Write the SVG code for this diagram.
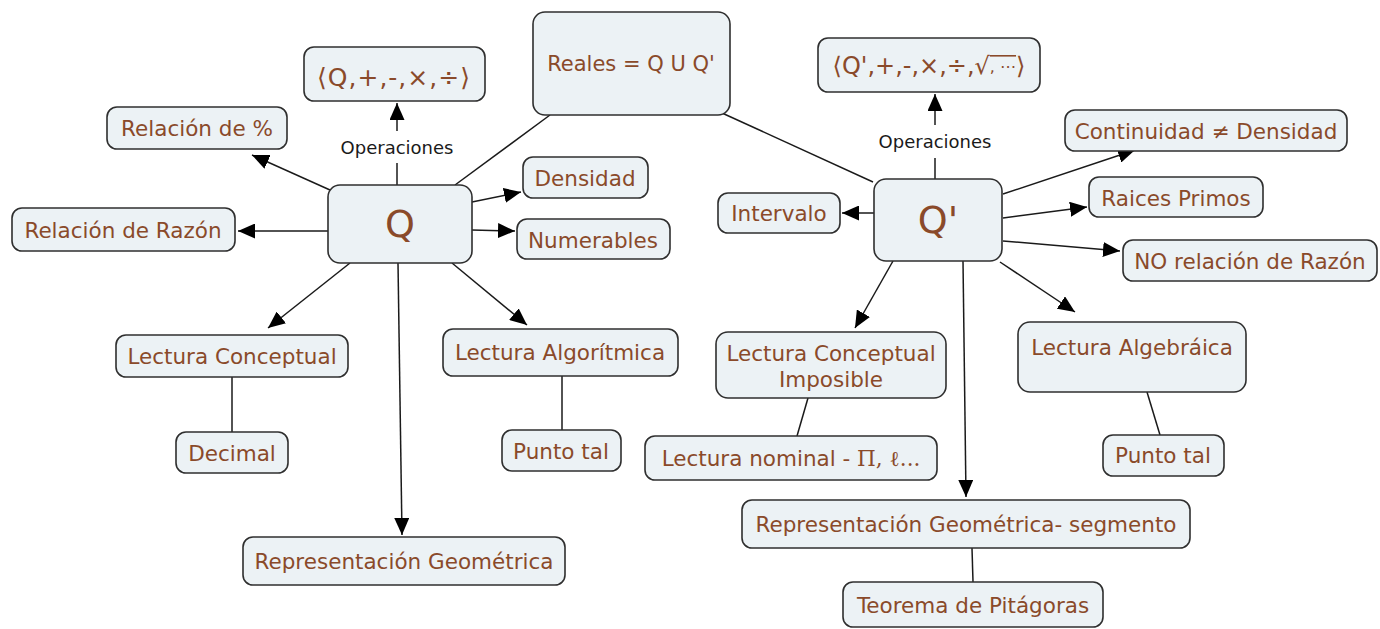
<svg xmlns="http://www.w3.org/2000/svg" width="1380" height="629" viewBox="0 0 1380 629">
<style>
.n rect{fill:#ecf2f5;stroke:#2f2f2f;stroke-width:1.6}
.n text{font-family:"DejaVu Sans",Verdana,sans-serif;font-size:21.5px;fill:#8a4a2a;text-anchor:middle;dominant-baseline:central}
.c line{stroke:#1a1a1a;stroke-width:1.5}
.lbl{font-family:"DejaVu Sans",Verdana,sans-serif;font-size:18px;fill:#1a1a1a;text-anchor:middle;dominant-baseline:central}
</style>
<defs>
<marker id="ah" markerUnits="userSpaceOnUse" markerWidth="17" markerHeight="15" refX="17" refY="7.5" orient="auto">
<path d="M0,0 L17,7.5 L0,15 z" fill="#000"/>
</marker>
</defs>
<rect width="1380" height="629" fill="#fff"/>
<g class="c" id="connectors">
<line x1="330" y1="190" x2="252" y2="155" marker-end="url(#ah)"/>
<line x1="328" y1="231" x2="238" y2="231" marker-end="url(#ah)"/>
<line x1="397" y1="185" x2="397" y2="163"/>
<line x1="397" y1="131" x2="397" y2="103" marker-end="url(#ah)"/>
<line x1="472" y1="202" x2="521" y2="192" marker-end="url(#ah)"/>
<line x1="472" y1="230" x2="515" y2="231" marker-end="url(#ah)"/>
<line x1="350" y1="263" x2="268" y2="328" marker-end="url(#ah)"/>
<line x1="398" y1="263" x2="402" y2="535" marker-end="url(#ah)"/>
<line x1="452" y1="263" x2="527" y2="325" marker-end="url(#ah)"/>
<line x1="232" y1="377" x2="232" y2="432"/>
<line x1="562" y1="376" x2="562" y2="430"/>
<line x1="550" y1="115" x2="455" y2="185"/>
<line x1="722" y1="113" x2="873" y2="182"/>
<line x1="935" y1="179" x2="935" y2="158"/>
<line x1="935" y1="125" x2="935" y2="94" marker-end="url(#ah)"/>
<line x1="874" y1="213" x2="842" y2="213" marker-end="url(#ah)"/>
<line x1="1003" y1="194" x2="1135" y2="150" marker-end="url(#ah)"/>
<line x1="1003" y1="218" x2="1087" y2="207" marker-end="url(#ah)"/>
<line x1="1003" y1="241" x2="1120" y2="251" marker-end="url(#ah)"/>
<line x1="1000" y1="262" x2="1075" y2="312" marker-end="url(#ah)"/>
<line x1="893" y1="261" x2="855" y2="328" marker-end="url(#ah)"/>
<line x1="963" y1="261" x2="966" y2="497" marker-end="url(#ah)"/>
<line x1="808" y1="398" x2="797" y2="436"/>
<line x1="1147" y1="392" x2="1160" y2="435"/>
<line x1="972" y1="548" x2="973" y2="582"/>
</g>
<text class="lbl" x="397" y="147">Operaciones</text>
<text class="lbl" x="935" y="141">Operaciones</text>
<g class="n" id="n-ops-q"><rect x="304" y="47" width="181" height="54" rx="10"/><text x="394" y="77" style="font-size:25px;letter-spacing:1px">⟨Q,+,-,×,÷⟩</text></g>
<g class="n" id="n-porc"><rect x="107" y="107" width="180" height="42" rx="10"/><text x="197" y="128">Relación de %</text></g>
<g class="n" id="n-razon"><rect x="12" y="208" width="223" height="43" rx="10"/><text x="123" y="230">Relación de Razón</text></g>
<g class="n" id="n-q"><rect x="328" y="185" width="144" height="78" rx="12"/><text x="400" y="224" style="font-size:38px">Q</text></g>
<g class="n" id="n-densidad"><rect x="523" y="157" width="125" height="41" rx="10"/><text x="585" y="178">Densidad</text></g>
<g class="n" id="n-numerables"><rect x="517" y="219" width="153" height="40" rx="10"/><text x="593" y="240">Numerables</text></g>
<g class="n" id="n-lc"><rect x="116" y="335" width="232" height="42" rx="10"/><text x="232" y="356">Lectura Conceptual</text></g>
<g class="n" id="n-decimal"><rect x="176" y="432" width="112" height="41" rx="10"/><text x="232" y="453">Decimal</text></g>
<g class="n" id="n-la"><rect x="443" y="329" width="235" height="47" rx="10"/><text x="560" y="352">Lectura Algorítmica</text></g>
<g class="n" id="n-punto-l"><rect x="502" y="430" width="119" height="41" rx="10"/><text x="561" y="451">Punto tal</text></g>
<g class="n" id="n-repgeo"><rect x="243" y="537" width="322" height="48" rx="10"/><text x="404" y="561">Representación Geométrica</text></g>
<g class="n" id="n-reales"><rect x="533" y="12" width="197" height="103" rx="12"/><text x="631" y="64" style="font-size:21px">Reales = Q U Q'</text></g>
<g class="n" id="n-ops-qp"><rect x="818" y="38" width="222" height="54" rx="10"/><text x="929" y="66" style="font-size:24px">⟨Q',+,-,×,÷,√<tspan style="font-size:16px;text-decoration:overline">, ⋯</tspan>⟩</text></g>
<g class="n" id="n-continuidad"><rect x="1065" y="110" width="282" height="41" rx="10"/><text x="1206" y="131">Continuidad ≠ Densidad</text></g>
<g class="n" id="n-raices"><rect x="1089" y="177" width="174" height="40" rx="10"/><text x="1176" y="198">Raices Primos</text></g>
<g class="n" id="n-norazon"><rect x="1123" y="240" width="254" height="41" rx="10"/><text x="1250" y="261">NO relación de Razón</text></g>
<g class="n" id="n-intervalo"><rect x="718" y="193" width="122" height="40" rx="10"/><text x="779" y="213">Intervalo</text></g>
<g class="n" id="n-qp"><rect x="874" y="179" width="128" height="82" rx="12"/><text x="938" y="220" style="font-size:38px">Q'</text></g>
<g class="n" id="n-lci"><rect x="716" y="332" width="230" height="66" rx="12"/><text x="831" y="353">Lectura Conceptual</text><text x="831" y="379">Imposible</text></g>
<g class="n" id="n-nominal"><rect x="645" y="436" width="292" height="44" rx="10"/><text x="791" y="458">Lectura nominal - <tspan style="font-family:'DejaVu Serif',serif">Π, ℓ...</tspan></text></g>
<g class="n" id="n-lalg"><rect x="1018" y="322" width="228" height="70" rx="12"/><text x="1132" y="347">Lectura Algebráica</text></g>
<g class="n" id="n-punto-r"><rect x="1103" y="435" width="121" height="41" rx="10"/><text x="1163" y="455">Punto tal</text></g>
<g class="n" id="n-repseg"><rect x="742" y="500" width="448" height="48" rx="10"/><text x="966" y="524">Representación Geométrica- segmento</text></g>
<g class="n" id="n-teorema"><rect x="843" y="582" width="260" height="45" rx="10"/><text x="973" y="605">Teorema de Pitágoras</text></g>
</svg>
